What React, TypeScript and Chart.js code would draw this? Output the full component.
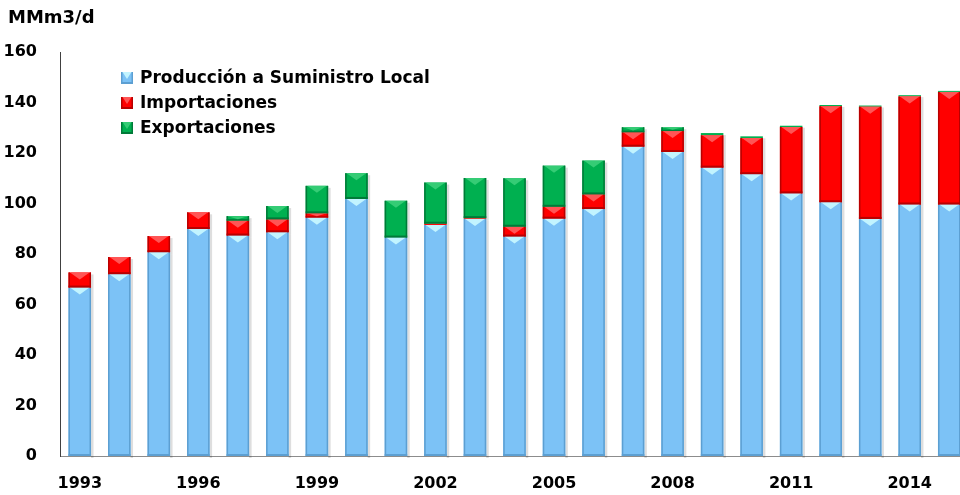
import React, { useEffect, useRef } from "react";
import { Chart, registerables } from "chart.js";

Chart.register(...registerables);

const years = ["1993","1994","1995","1996","1997","1998","1999","2000","2001","2002","2003","2004","2005","2006","2007","2008","2009","2010","2011","2012","2013","2014","2015"];
const produccion = [66.7,72,80.7,89.9,87.3,88.6,94.4,101.8,86.5,91.5,93.9,86.9,94,97.8,122.5,120.4,114.2,111.6,104,100.5,93.9,99.6,99.6];
const importaciones = [6,6.8,6.4,6.6,5.9,5.1,1.7,0,0,0.5,0.3,3.9,4.7,5.8,5.7,8.3,12.8,14.3,26.3,38,44.4,42.8,44.6];
const exportaciones = [0,0,0,0,1.8,5.3,10.9,10.2,14.6,16.3,15.9,19.2,16.3,13.4,2,1.5,0.9,0.7,0.5,0.5,0.5,0.5,0.4];
const seriesNames = ["Producción a Suministro Local", "Importaciones", "Exportaciones"];
const yTitle = "MMm3/d";

const palette = [
  { base: "#7CC2F6", light: "#C2F4FF", dark: "#5C9FD2" },
  { base: "#FF0000", light: "#FF5555", dark: "#B80000" },
  { base: "#00B050", light: "#35CC75", dark: "#007A38" },
];

const FONT = "'DejaVu Sans', sans-serif";

function drawBevel(ctx: CanvasRenderingContext2D, left: number, top: number, w: number, h: number, c: { base: string; light: string; dark: string }) {
  if (h < 2.5) return;
  const right = left + w;
  const bottom = top + h;
  const e = Math.min(2, h / 3);
  ctx.fillStyle = c.dark;
  ctx.fillRect(left, top, 1.5, h);
  ctx.fillRect(right - 1.5, top, 1.5, h);
  ctx.fillRect(left, bottom - e, w, e);
  const th = Math.min(7, h - e);
  ctx.fillStyle = c.light;
  ctx.beginPath();
  ctx.moveTo(left + 1.5, top);
  ctx.lineTo(right - 1.5, top);
  ctx.lineTo(left + w / 2, top + th);
  ctx.closePath();
  ctx.fill();
}

const bevelPlugin = {
  id: "bevel",
  beforeDatasetsDraw(chart: any) {
    const ctx = chart.ctx;
    ctx.save();
    ctx.fillStyle = "rgba(0,0,0,0.13)";
    chart.data.datasets.forEach((_: any, i: number) => {
      const meta = chart.getDatasetMeta(i);
      meta.data.forEach((bar: any) => {
        const p = bar.getProps(["x", "y", "base", "width"], true);
        const top = Math.min(p.y, p.base);
        const h = Math.abs(p.base - p.y);
        if (h <= 0) return;
        ctx.fillRect(p.x + p.width / 2, top + 2, 2.5, h);
      });
    });
    ctx.restore();
  },
  afterDatasetsDraw(chart: any) {
    const ctx = chart.ctx;
    ctx.save();
    chart.data.datasets.forEach((_: any, i: number) => {
      const meta = chart.getDatasetMeta(i);
      meta.data.forEach((bar: any) => {
        const p = bar.getProps(["x", "y", "base", "width"], true);
        const top = Math.min(p.y, p.base);
        const h = Math.abs(p.base - p.y);
        drawBevel(ctx, p.x - p.width / 2, top, p.width, h, palette[i]);
      });
    });
    ctx.restore();
  },
  afterDraw(chart: any) {
    const ctx = chart.ctx;
    ctx.save();
    ctx.fillStyle = "#000";
    ctx.font = `bold 18px ${FONT}`;
    ctx.textBaseline = "middle";
    ctx.textAlign = "left";
    ctx.fillText(yTitle, 8, 18);
    ctx.font = `bold 17px ${FONT}`;
    seriesNames.forEach((name, i) => {
      const cy = 78 + i * 25;
      const c = palette[i];
      ctx.fillStyle = c.base;
      ctx.fillRect(121, cy - 6, 12, 12);
      drawBevel(ctx, 121, cy - 6, 12, 12, c);
      ctx.fillStyle = "#000";
      ctx.fillText(name, 140, cy + 1);
    });
    ctx.restore();
  },
};

export default function App() {
  const ref = useRef<HTMLCanvasElement>(null);
  useEffect(() => {
    if (!ref.current) return;
    const chart = new Chart(ref.current, {
      type: "bar",
      data: {
        labels: years,
        datasets: [
          { label: seriesNames[0], data: produccion, backgroundColor: palette[0].base },
          { label: seriesNames[1], data: importaciones, backgroundColor: palette[1].base },
          { label: seriesNames[2], data: exportaciones, backgroundColor: palette[2].base },
        ],
      },
      options: {
        animation: false,
        responsive: false,
        maintainAspectRatio: false,
        devicePixelRatio: 1,
        datasets: { bar: { categoryPercentage: 1, barPercentage: 0.57, borderWidth: 0 } },
        layout: { padding: { top: 52, left: 0, right: 0, bottom: 0 } },
        plugins: { legend: { display: false }, tooltip: { enabled: false }, title: { display: false } },
        scales: {
          x: {
            stacked: true,
            grid: { display: false, drawTicks: false },
            border: { display: true, color: "#8c8c8c", width: 1 },
            ticks: {
              autoSkip: false,
              maxRotation: 0,
              minRotation: 0,
              padding: 18,
              color: "#000",
              font: { family: FONT, size: 16, weight: "bold" },
              callback: (_v: any, i: number) => (i % 3 === 0 ? years[i] : ""),
            },
            afterFit: (s: any) => { s.height = 39; },
          },
          y: {
            stacked: true,
            min: 0,
            max: 160,
            grid: { display: false, drawTicks: false },
            border: { display: true, color: "#404040", width: 1 },
            ticks: {
              stepSize: 20,
              padding: 23,
              color: "#000",
              font: { family: FONT, size: 16, weight: "bold" },
            },
            afterFit: (s: any) => { s.width = 60; },
          },
        },
      },
      plugins: [bevelPlugin],
    });
    return () => chart.destroy();
  }, []);
  return (
    <div style={{ position: "absolute", left: 0, top: 0, width: 960, height: 495, overflow: "hidden", background: "#fff" }}>
      <canvas ref={ref} width={969} height={495} style={{ display: "block", width: 969, height: 495 }} />
    </div>
  );
}
